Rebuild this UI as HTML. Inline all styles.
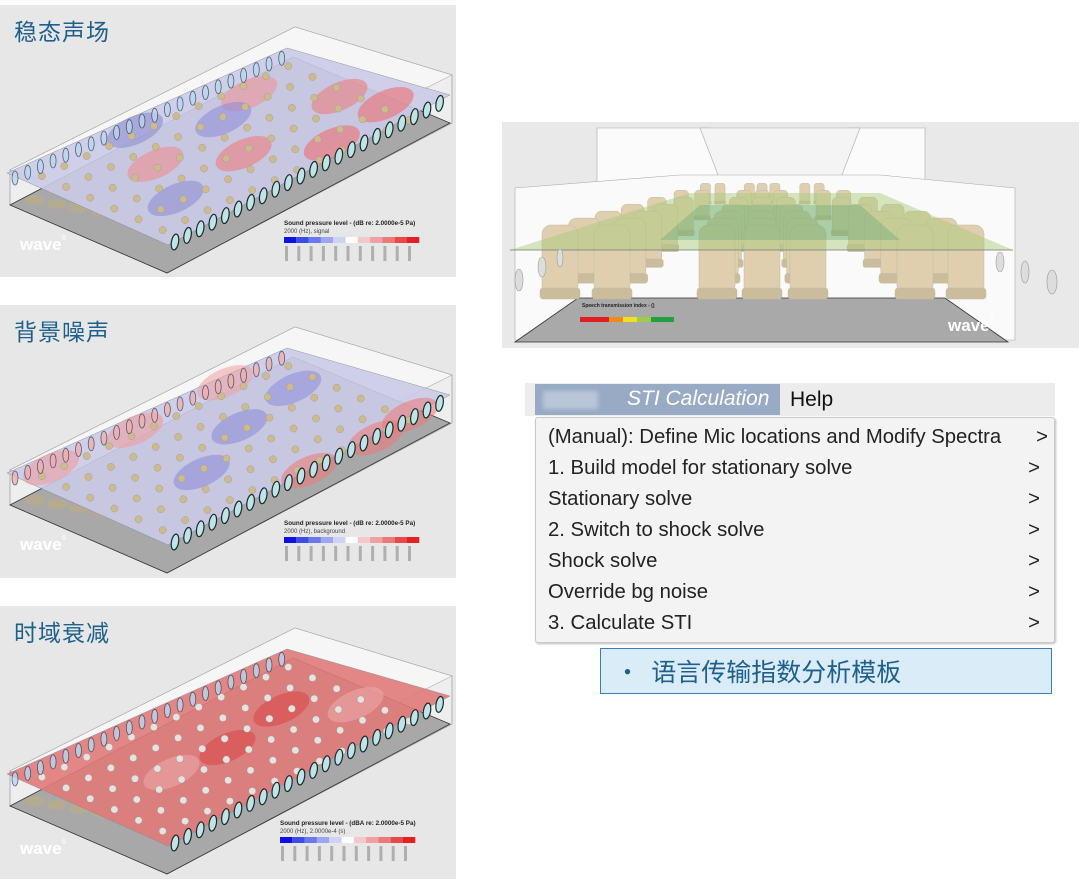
<!DOCTYPE html>
<html><head><meta charset="utf-8">
<style>
html,body{margin:0;padding:0;background:#fff;}
body{width:1080px;height:882px;position:relative;overflow:hidden;font-family:"Liberation Sans","Noto Sans CJK SC",sans-serif;}
.panel{position:absolute;left:0;width:456px;background:#e7e7e7;}
.title{position:absolute;left:14px;top:8px;font-size:23px;color:#1f5f8b;font-family:"Noto Sans CJK SC","WenQuanYi Zen Hei",sans-serif;letter-spacing:1px;}
svg{position:absolute;left:0;top:0;}
.menu{position:absolute;left:535px;top:383px;width:520px;}
.it{position:absolute;left:12px;right:14px;white-space:nowrap;}
.it span{position:absolute;right:0;top:0;}
</style></head><body>

<div class="panel" id="p1" style="top:5px;height:272px"><svg width="456" height="272"></svg><div class="title">稳态声场</div></div>
<div class="panel" id="p2" style="top:305px;height:273px"><svg width="456" height="273"></svg><div class="title">背景噪声</div></div>
<div class="panel" id="p3" style="top:606px;height:273px"><svg width="456" height="273"></svg><div class="title">时域衰减</div></div>

<svg style="left:502px;top:122px" width="577" height="226" viewBox="502 122 577 226">
 <rect x="502" y="122" width="577" height="226" fill="#e9e9e9"/>
 <polygon points="597,128 710,128 745,150 745,180 697,183 597,183" fill="#fbfbfb" stroke="#aaa" stroke-width="0.6"/>
 <polygon points="815,150 848,128 925,128 925,183 815,183" fill="#fbfbfb" stroke="#aaa" stroke-width="0.6"/>
 <polygon points="700,128 860,128 840,180 720,180" fill="#f4f4f4" stroke="#aaa" stroke-width="0.6"/>
 <polygon points="515,188 680,175 880,175 1015,188 1015,340 515,340" fill="#fafafa" stroke="#aaa" stroke-width="0.6"/>
 <polygon points="578,298 945,298 1008,342 515,342" fill="#a9a9a9" stroke="#333" stroke-width="0.8"/>
 <g fill="#dfcfae" stroke="#bba" stroke-width="0.5" id="seats"></g>
 <polygon points="510,250 690,193 880,193 1013,250" fill="#a8c878" opacity="0.45"/>
 <polygon points="700,205 860,205 900,240 660,240" fill="#4fa070" opacity="0.3"/>
 <line x1="510" y1="250" x2="1013" y2="250" stroke="#777" stroke-width="0.8"/>
 <g fill="#ddd" stroke="#999" stroke-width="0.6">
  <ellipse cx="519" cy="280" rx="4" ry="11"/><ellipse cx="542" cy="267" rx="4" ry="10"/><ellipse cx="560" cy="258" rx="3" ry="9"/>
  <ellipse cx="1000" cy="262" rx="4" ry="10"/><ellipse cx="1025" cy="272" rx="4" ry="11"/><ellipse cx="1052" cy="282" rx="5" ry="12"/>
 </g>
 <text x="582" y="307" font-size="5" font-weight="bold" fill="#222">Speech transmission index - ()</text>
 <rect x="580" y="317" width="29" height="5" fill="#e02020"/><rect x="609" y="317" width="14" height="5" fill="#f08a1a"/><rect x="623" y="317" width="14" height="5" fill="#f0e020"/><rect x="637" y="317" width="14" height="5" fill="#9ccc4c"/><rect x="651" y="317" width="23" height="5" fill="#20a040"/>
 <text x="948" y="331" font-size="17" fill="#fff" font-weight="bold">wave</text><text x="990" y="320" font-size="8" fill="#fff">6</text>
</svg>

<div class="menu">
 <div style="position:absolute;left:-10px;top:0;width:530px;height:33px;background:#ececec;"></div>
 <div style="position:absolute;left:0;top:1px;width:245px;height:31px;background:#98aac4;"></div>
 <div style="position:absolute;left:8px;top:8px;width:55px;height:18px;background:#b9c6d8;filter:blur(2px)"></div>
 <div style="position:absolute;left:92px;top:4px;font-size:21px;color:#fff;font-style:italic;">STI Calculation</div>
 <div style="position:absolute;left:255px;top:5px;font-size:21px;color:#111;">Help</div>
 <div style="position:absolute;left:0;top:34px;width:518px;height:224px;background:#f3f3f3;border:1px solid #c9c9c9;border-radius:3px;box-shadow:1px 1px 2px #bbb;font-size:20.3px;color:#222;">
  <div class="it" style="top:8px;right:6px">(Manual): Define Mic locations and Modify Spectra<span>&gt;</span></div>
  <div class="it" style="top:39px">1. Build model for stationary solve<span>&gt;</span></div>
  <div class="it" style="top:70px">Stationary solve<span>&gt;</span></div>
  <div class="it" style="top:101px">2. Switch to shock solve<span>&gt;</span></div>
  <div class="it" style="top:132px">Shock solve<span>&gt;</span></div>
  <div class="it" style="top:163px">Override bg noise<span>&gt;</span></div>
  <div class="it" style="top:194px">3. Calculate STI<span>&gt;</span></div>
 </div>
</div>
<div style="position:absolute;left:600px;top:648px;width:452px;height:46px;background:#d9ecf8;border:1px solid #3a7fb8;box-sizing:border-box;font-size:25px;color:#1f5f8b;font-family:'Noto Sans CJK SC',sans-serif;line-height:44px;padding-left:14px;">•&nbsp; 语言传输指数分析模板</div>

<script>
var NS="http://www.w3.org/2000/svg";
function el(p,t,a){var e=document.createElementNS(NS,t);for(var k in a)e.setAttribute(k,a[k]);p.appendChild(e);return e;}
var A=[7,168],B=[287,43],D=[168,240];
function P(u,v){return [A[0]+u*(B[0]-A[0])+v*(D[0]-A[0]),A[1]+u*(B[1]-A[1])+v*(D[1]-A[1])];}
function panel(id,mode,bar){
 var s=document.querySelector('#'+id+' svg');
 el(s,'polygon',{points:"10,165 295,22 452,70 452,118 167,268 10,200",fill:"#eeeeee",stroke:"#999","stroke-width":0.7});
 el(s,'polygon',{points:"10,165 295,22 452,70 168,212",fill:"#f6f6f6",stroke:"#aaa","stroke-width":0.6});
 el(s,'polygon',{points:"10,200 293,52 450,118 167,268",fill:"#a8a8a8",stroke:"#333","stroke-width":0.8});
 for(var i=0;i<6;i++)el(s,'ellipse',{cx:35+i*22,cy:195+i*4,rx:10,ry:5,fill:"#b8ab8a",opacity:0.8});
 var base=mode==3?"#e07a7a":"#cbcbe8";
 el(s,'polygon',{points:"7,168 287,43 450,90 168,240",fill:base,opacity:0.9,stroke:"#889","stroke-width":0.5});
 var blobs=[];
 if(mode==1)blobs=[[0.3,0.4,"#f08888"],[0.5,0.6,"#f07777"],[0.7,0.8,"#ee6666"],[0.75,0.2,"#f09090"],[0.9,0.5,"#ee7777"],[1.05,0.7,"#ee6666"],[0.4,0.1,"#8888d0"],[0.6,0.3,"#8a8ad8"],[0.2,0.7,"#8888d0"]];
 if(mode==2)blobs=[[0.1,0.1,"#f09a9a"],[0.4,0.1,"#f09a9a"],[0.75,0.05,"#f0a0a0"],[0.55,0.92,"#ee7777"],[0.8,0.9,"#ee7777"],[1.0,0.85,"#ee7777"],[0.35,0.6,"#8888d8"],[0.6,0.4,"#8888d8"],[0.85,0.3,"#8c8cdc"]];
 if(mode==3)blobs=[[0.5,0.5,"#d44"],[0.75,0.4,"#d44"],[0.3,0.5,"#eaa"],[0.9,0.6,"#eaa"]];
 blobs.forEach(function(b){var p=P(Math.min(b[0],0.95),Math.min(b[1],0.92));el(s,'ellipse',{cx:p[0],cy:p[1],rx:30,ry:14,fill:b[2],opacity:0.55,transform:"rotate(-24 "+p[0]+" "+p[1]+")"});});
 var hc=mode==3?"#e6e2e2":"#cdbb8f";
 for(var r=0;r<6;r++)for(var c=0;c<12;c++){
  var p=P(0.05+c*0.08,0.13+r*0.15);
  el(s,'circle',{cx:p[0],cy:p[1],r:3.6,fill:hc,stroke:"#998",'stroke-width':0.4});
 }
 for(var k=0;k<22;k++){var x=15+k*12.7,y=173-k*5.7;
  el(s,'ellipse',{cx:x,cy:y,rx:3,ry:7,fill:mode==2?"#f0b0b0":"#bcd6ee",stroke:"#345","stroke-width":0.8,opacity:0.8});}
 for(var k=0;k<22;k++){var x=175+k*12.6,y=237-k*6.6;
  el(s,'ellipse',{cx:x,cy:y,rx:3.6,ry:8,fill:"#bfe3e6",stroke:"#1a2a2a","stroke-width":1.2,transform:"rotate(10 "+x+" "+y+")"});}
 var cols=["#1010e0","#3c4ce8","#6a78ec","#9ea6f0","#cfd2f4","#fdfdfd","#f4c8c8","#f0a0a0","#ec7878","#e84848","#e42020"];
 var tx=mode==3?280:284, ty=mode==3?231:232;
 el(s,'text',{x:tx,y:ty-12,'font-size':6.3,'font-weight':'bold',fill:'#222'}).textContent=bar[0];
 el(s,'text',{x:tx,y:ty-4,'font-size':6,fill:'#444'}).textContent=bar[1];
 for(var i=0;i<11;i++)el(s,'rect',{x:tx+i*12.3,y:ty,width:12.3,height:6,fill:cols[i]});
 for(var i=0;i<11;i++)el(s,'rect',{x:tx+1+i*12.3,y:ty+9,width:3,height:15,fill:'#777',opacity:0.5});
 el(s,'text',{x:20,y:mode==3?248:245,'font-size':17,'font-weight':'bold',fill:'#fff'}).textContent="wave";
 el(s,'text',{x:62,y:mode==3?238:235,'font-size':7,fill:'#fff'}).textContent="6";
}
panel('p1',1,["Sound pressure level - (dB re: 2.0000e-5 Pa)","2000 (Hz), signal"]);
panel('p2',2,["Sound pressure level - (dB re: 2.0000e-5 Pa)","2000 (Hz), background"]);
panel('p3',3,["Sound pressure level - (dBA re: 2.0000e-5 Pa)","2000 (Hz), 2.0000e-4 (s)"]);
var g=document.getElementById('seats');
var xs=[560,612,717,762,808,915,966];
for(var r=6;r>=0;r--){var t=r/6;var sc=1-t*0.72;var cy=295-t*92;
 xs.forEach(function(x0){
  var cx=762+(x0-762)*sc; var w=36*sc,h=70*sc;
  el(g,'rect',{x:cx-w/2,y:cy-h,width:w,height:h,rx:9*sc});
  el(g,'rect',{x:cx-w/2-2*sc,y:cy-7*sc,width:w+4*sc,height:11*sc,rx:3*sc,fill:"#cbbd9c"});
 });}
</script>
</body></html>
